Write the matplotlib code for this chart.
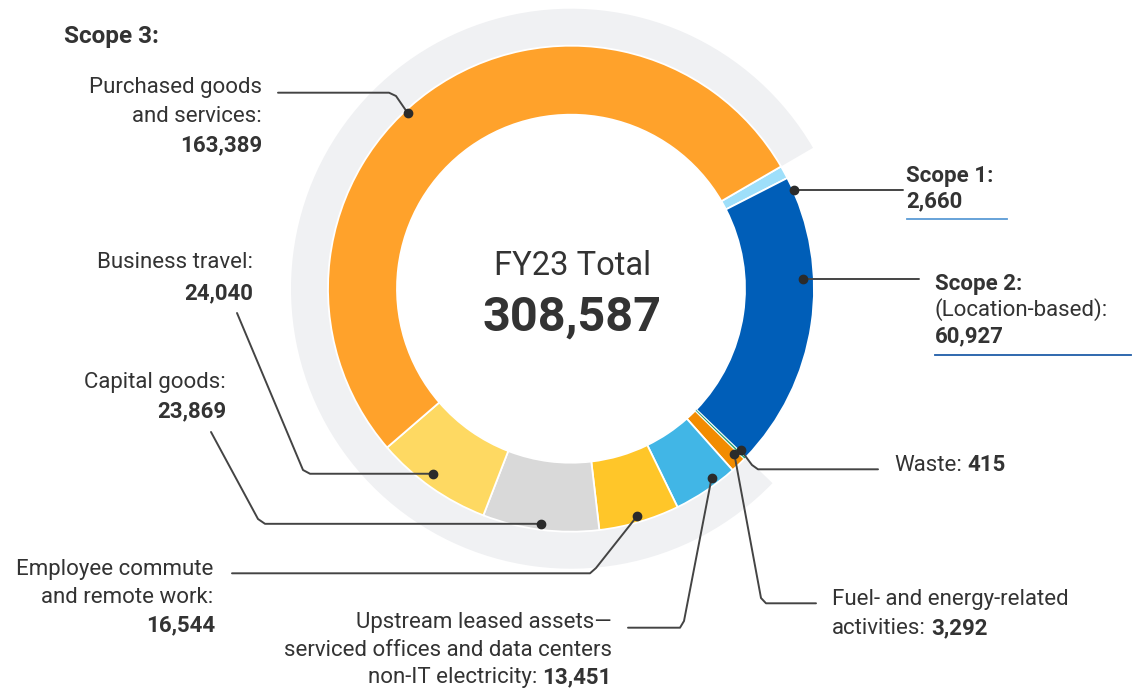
import matplotlib
matplotlib.use("Agg")
import matplotlib.pyplot as plt
from matplotlib.patches import Wedge
import numpy as np

plt.rcParams['font.family'] = ['Roboto', 'DejaVu Sans']

# ring order, clockwise from Scope 1
names = ["Scope 1", "Scope 2", "Waste", "Fuel- and energy-related activities",
         "Upstream leased assets", "Employee commute and remote work",
         "Capital goods", "Business travel", "Purchased goods and services"]
values = [2660, 60927, 415, 3292, 13451, 16544, 23869, 24040, 163389]
colors = ["#9EDFFA", "#005EB8", "#1A9A6C", "#F28C00", "#41B6E6",
          "#FFC629", "#D9D9D9", "#FED962", "#FFA22B"]
total_label = "FY23 Total"
total = sum(values)

W, H = 1136, 692
TXT = "#333333"
LINE = "#444444"


def Y(y):
    return H - y


fig = plt.figure(figsize=(W / 100, H / 100), dpi=100)
ax = fig.add_axes([0, 0, 1, 1])

cx, cy = 571, Y(288.7)
R, ring_w = 243, 69
wedges, _ = ax.pie(values, colors=colors, startangle=30.2, counterclock=False,
                   radius=R, center=(cx, cy),
                   wedgeprops=dict(width=ring_w, edgecolor="white", linewidth=1.3))
# the tiny waste slice would vanish under a full-width white edge
wedges[2].set_linewidth(0.4)
wedges[2].set_zorder(wedges[2].get_zorder() + 0.5)

# light grey band around the Scope 3 categories
band = Wedge((cx, cy), 280, wedges[8].theta1, wedges[2].theta2, width=280 - R,
             facecolor="#F0F1F3", edgecolor="none", zorder=0)
ax.add_patch(band)

ax.set_xlim(0, W)
ax.set_ylim(0, H)
ax.set_aspect("equal")
ax.set_axis_off()

# centre text
ax.text(cx + 1, Y(275), total_label, ha="center", va="baseline", fontsize=23.5, color=TXT)
ax.text(cx + 1, Y(331), f"{total:,}", ha="center", va="baseline", fontsize=35,
        fontweight="bold", color=TXT)

# leader dots: angle offset from wedge middle, radius
dot_cfg = {0: (-4.8, 244), 1: (10.8, 232), 2: (0.7, 234), 3: (1.1, 232), 4: (2.7, 236),
           5: (-0.2, 237), 6: (0, 237), 7: (-1.6, 231), 8: (7.4, 240)}
# remaining leader points (pixel coords), None y = keep dot height
paths = {
    0: [(903, None)],
    1: [(919, None)],
    2: [(752, 465), (758, 469.3), (878, 469.3)],
    3: [(761, 598), (766, 603.3), (816, 603.3)],
    4: [(684, 621), (680, 627.7), (628, 627.7)],
    5: [(596, 568), (590, 573.3), (232, 573.3)],
    6: [(265, None), (258, 519), (211, 432)],
    7: [(310, None), (303, 470), (237, 313)],
    8: [(396, 96), (389, 92.7), (278, 92.7)],
}
for i, w in enumerate(wedges):
    off, r = dot_cfg[i]
    a = np.deg2rad((w.theta1 + w.theta2) / 2 + off)
    dx, dy = cx + r * np.cos(a), cy + r * np.sin(a)
    xs, ys = [dx], [dy]
    for px, pyy in paths[i]:
        xs.append(px)
        ys.append(dy if pyy is None else Y(pyy))
    ax.plot(xs, ys, color=LINE, lw=1.4, solid_capstyle="round", zorder=3)
    ax.plot(dx, dy, "o", ms=6, color="#2b2b2b", zorder=4)

renderer = fig.canvas.get_renderer()
FS = 16


def rich(x, y, parts, ha="left", gap=5):
    """parts: list of (text, weight); drawn on one baseline"""
    seq = parts if ha == "left" else parts[::-1]
    pos = x
    for txt, wt in seq:
        t = ax.text(pos, Y(y), txt, ha=ha, va="baseline", fontsize=FS,
                    fontweight=wt, color=TXT)
        wdt = t.get_window_extent(renderer).width
        pos = pos + wdt + gap if ha == "left" else pos - wdt - gap


def line(x, y, s, ha="left", wt="normal", fs=FS):
    ax.text(x, Y(y), s, ha=ha, va="baseline", fontsize=fs, fontweight=wt, color=TXT)


line(64, 42.7, "Scope 3:", wt="bold", fs=17.5)

line(262, 93.3, "Purchased goods", ha="right")
line(262, 121.7, "and services:", ha="right")
line(262, 151.7, f"{values[8]:,}", ha="right", wt="bold")

line(253, 268.3, "Business travel:", ha="right")
line(253, 299, f"{values[7]:,}", ha="right", wt="bold")

line(226, 387.7, "Capital goods:", ha="right")
line(226, 417.3, f"{values[6]:,}", ha="right", wt="bold")

line(213, 575, "Employee commute", ha="right")
line(213, 602.7, "and remote work:", ha="right")
line(215, 631, f"{values[5]:,}", ha="right", wt="bold")

line(612, 628.3, "Upstream leased assets\u2014", ha="right")
line(612, 656, "serviced offices and data centers", ha="right")
rich(612, 683.3, [("non-IT electricity:", "normal"), (f"{values[4]:,}", "bold")], ha="right")

rich(832, 605, [("Fuel- and energy-related", "normal")])
rich(832, 634, [("activities:", "normal"), (f"{values[3]:,}", "bold")])

rich(894, 470.7, [("Waste:", "normal"), (f"{values[2]:,}", "bold")])

line(906, 181.7, "Scope 1:", wt="bold")
line(906, 207.3, f"{values[0]:,}", wt="bold")
ax.plot([907, 1007], [Y(219), Y(219)], color="#5B9BD5", lw=1.3)

line(935, 290, "Scope 2:", wt="bold")
line(935, 315.7, "(Location-based):")
line(935, 342.7, f"{values[1]:,}", wt="bold")
ax.plot([935, 1131], [Y(355), Y(355)], color="#1F5DA8", lw=1.3)

fig.savefig("out.png", dpi=100)
